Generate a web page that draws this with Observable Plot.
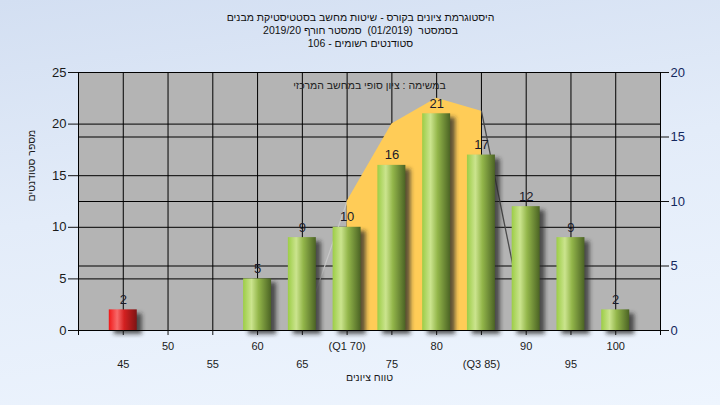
<!DOCTYPE html>
<html><head><meta charset="utf-8">
<script src="https://cdn.jsdelivr.net/npm/d3@7"></script>
<script src="https://cdn.jsdelivr.net/npm/@observablehq/plot@0.6"></script>
<style>
html,body{margin:0;padding:0;}
body{width:720px;height:405px;overflow:hidden;background:linear-gradient(172deg,#d3dff2 0%,#e3ecf9 45%,#eef5fe 100%);font-family:"Liberation Sans",Arial,sans-serif;}
</style></head><body>
<svg width="0" height="0" style="position:absolute">
  <defs>
    <linearGradient id="gGreen" x1="0" y1="0" x2="1" y2="0">
      <stop offset="0" stop-color="#9ccd46"/>
      <stop offset="0.3" stop-color="#cbe48e"/>
      <stop offset="0.55" stop-color="#93b64a"/>
      <stop offset="1" stop-color="#4b6324"/>
    </linearGradient>
    <linearGradient id="gRed" x1="0" y1="0" x2="1" y2="0">
      <stop offset="0" stop-color="#f01818"/>
      <stop offset="0.3" stop-color="#f86a6a"/>
      <stop offset="0.55" stop-color="#d42020"/>
      <stop offset="1" stop-color="#7e1414"/>
    </linearGradient>
    <filter id="blur" x="-30%" y="-30%" width="160%" height="160%">
      <feGaussianBlur stdDeviation="2.2"/>
    </filter>
  </defs>
</svg>
<div id="chart"></div>
<script>
// ---- data ----
const grades = [45, 50, 55, 60, 65, 70, 75, 80, 85, 90, 95, 100];
const counts = [2, 0, 0, 5, 9, 10, 16, 21, 17, 12, 9, 2];
const tickLabels = ["45", "50", "55", "60", "65", "(Q1 70)", "75", "80", "(Q3 85)", "90", "95", "100"];
const passGrade = 55;
const q1 = 70, q3 = 85;
const curveGrades = [65, 70, 75, 80, 85, 90];
const curveValues = [0, 10, 16, 18, 17, 0];   // right-axis units
const leftTicks = [0, 5, 10, 15, 20, 25];
const rightTicks = [0, 5, 10, 15, 20];
const titleLines = [
  "היסטוגרמת ציונים בקורס - שיטות מחשב בסטטיסטיקת מבנים",
  "בסמסטר \u00A0(01/2019) \u00A0סמסטר חורף 2019/20",
  "סטודנטים רשומים - 106"
];
const note = "במשימה : ציון סופי במחשב המרכזי";
const xTitle = "טווח ציונים";
const yTitle = "מספר סטודנטים";

const k = leftTicks[leftTicks.length - 1] / rightTicks[rightTicks.length - 1];
const bars = grades.map((g, i) => ({grade: g, n: counts[i], label: tickLabels[i]}));
const shown = bars.filter(d => d.n > 0);
const curve = curveGrades.map((g, i) => ({grade: g, v: curveValues[i] * k}));
const upper = bars.filter((d, i) => i % 2 === 1);
const lower = bars.filter((d, i) => i % 2 === 0);
const half = 2.5, inset = 8.4;
const hebFont = 10.5;
const shadowColor = "#2a2a2a";

const chart = Plot.plot({
  width: 720, height: 405,
  marginLeft: 78, marginRight: 60, marginTop: 72, marginBottom: 75,
  style: {background: "transparent", fontFamily: "'Liberation Sans', Arial, sans-serif", fontSize: "12px", color: "#111", overflow: "visible"},
  x: {type: "linear", domain: [40, 105], axis: null, label: null},
  y: {domain: [0, 25], axis: null, label: null},
  marks: [
    Plot.frame({fill: "#b4b4b4", stroke: "none"}),
    Plot.ruleY(leftTicks, {stroke: "#000"}),
    Plot.ruleY(rightTicks.map(v => v * k), {stroke: "#000"}),
    Plot.ruleX(grades, {stroke: "#000"}),
    Plot.line(curve.filter(d => d.grade <= q1), {x: "grade", y: "v", stroke: "#c8c8c8", strokeWidth: 1.2}),
    Plot.line(curve.filter(d => d.grade >= q3), {x: "grade", y: "v", stroke: "#4a4a4a", strokeWidth: 1.3}),
    Plot.areaY(curve.filter(d => d.grade >= q1 && d.grade <= q3), {x: "grade", y: "v", fill: "#ffcc57"}),
    Plot.rectY(shown, {x1: d => d.grade - half, x2: d => d.grade + half, y: "n", insetLeft: inset, insetRight: inset, dx: 5, dy: 4, fill: shadowColor, fillOpacity: 0.75}),
    Plot.rectY(shown.filter(d => d.grade < passGrade), {x1: d => d.grade - half, x2: d => d.grade + half, y: "n", insetLeft: inset, insetRight: inset, fill: "url(#gRed)"}),
    Plot.rectY(shown.filter(d => d.grade >= passGrade), {x1: d => d.grade - half, x2: d => d.grade + half, y: "n", insetLeft: inset, insetRight: inset, fill: "url(#gGreen)"}),
    Plot.text(shown, {x: "grade", y: "n", text: d => String(d.n), lineAnchor: "bottom", dy: -6, fontSize: 13, fill: "#1a1a2a"}),
    Plot.text([note], {frameAnchor: "top", lineAnchor: "middle", dy: 13, fontSize: hebFont, fill: "#222"}),
    // axes
    Plot.ruleX([40], {stroke: "#000", insetBottom: -5}),
    Plot.ruleX([105], {stroke: "#000", insetBottom: -5}),
    Plot.ruleY([0], {stroke: "#000"}),
    Plot.axisY(leftTicks, {anchor: "left", label: null, tickSize: 10, tickPadding: 2, fontSize: 13, fill: "#1a1a1a"}),
    Plot.axisY(rightTicks.map(v => v * k), {anchor: "right", label: null, tickSize: 8, tickPadding: 2, fontSize: 13, fill: "#14285e", tickFormat: d => String(Math.round(d / k))}),
    Plot.axisX(grades, {anchor: "bottom", label: null, tickSize: 5, tickFormat: () => ""}),
    Plot.text(upper, {x: "grade", text: "label", frameAnchor: "bottom", lineAnchor: "middle", dy: 16, fontSize: 11, fill: "#1a1a1a"}),
    Plot.text(lower, {x: "grade", text: "label", frameAnchor: "bottom", lineAnchor: "middle", dy: 34, fontSize: 11, fill: "#1a1a1a"}),
    Plot.text([xTitle], {frameAnchor: "bottom", lineAnchor: "middle", dy: 47, fontSize: hebFont, fill: "#1a1a1a"}),
    Plot.text([yTitle], {frameAnchor: "left", lineAnchor: "middle", dx: -47, rotate: -90, fontSize: hebFont, fill: "#1a1a1a"}),
    Plot.text([titleLines[0]], {frameAnchor: "top", lineAnchor: "middle", dx: -9, dy: -55, fontSize: hebFont, fill: "#111"}),
    Plot.text([titleLines[1]], {frameAnchor: "top", lineAnchor: "middle", dx: -9, dy: -42, fontSize: hebFont, fill: "#111"}),
    Plot.text([titleLines[2]], {frameAnchor: "top", lineAnchor: "middle", dx: -9, dy: -29, fontSize: hebFont, fill: "#111"})
  ]
});
d3.select(chart).selectAll(`g[fill="${shadowColor}"]`).attr("filter", "url(#blur)");
document.getElementById("chart").appendChild(chart);
</script>
</body></html>
